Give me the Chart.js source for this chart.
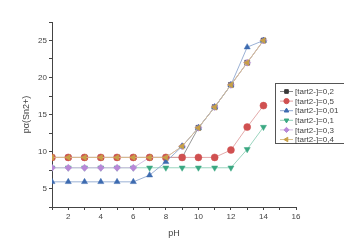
<!DOCTYPE html>
<html><head><meta charset="utf-8">
<script src="https://cdn.jsdelivr.net/npm/chart.js@4/dist/chart.umd.min.js"></script>
<style>html,body{margin:0;padding:0;background:#fff}#c{display:block}</style>
</head><body>
<canvas id="c" width="344" height="244"></canvas>
<script>
const pH = [1,2,3,4,5,6,7,8,9,10,11,12,13,14];
const seriesLabels = ['[tart2-]=0,2','[tart2-]=0,5','[tart2-]=0,01','[tart2-]=0,1','[tart2-]=0,3','[tart2-]=0,4'];
const t02  = [9.2,9.2,9.2,9.2,9.2,9.2,9.2,9.2,9.2,13.2,16.0,19.0,22.0,25.0];
const t05  = [9.2,9.2,9.2,9.2,9.2,9.2,9.2,9.2,9.2,9.2,9.2,10.2,13.3,16.2];
const t001 = [5.9,5.9,5.9,5.9,5.9,5.9,6.8,8.6,10.7,13.2,16.0,19.0,24.1,25.0];
const t01  = [7.8,7.8,7.8,7.8,7.8,7.8,7.8,7.8,7.8,7.8,7.8,7.8,10.3,13.3];
const t03  = [7.8,7.8,7.8,7.8,7.8,7.8,9.2,9.2,10.7,13.2,16.0,19.0,22.0,25.0];
const t04  = [9.2,9.2,9.2,9.2,9.2,9.2,9.2,9.2,10.7,13.2,16.0,19.0,22.0,25.0];
const xTickLabels = [2,4,6,8,10,12,14,16];
const yTickLabels = [5,10,15,20,25];

const values = [t02,t05,t001,t01,t03,t04];
const colors = ['#3a3a3a','#d05050','#3d6bb0','#3aa882','#b888d8','#c8a046'];
const lineColors = ['#8a8a8a','#e0a0a0','#90a8d0','#90d0b8','#d0b8e0','#d8c090'];
const styles = ['rect','circle','triangle','triangle','rectRot','triangle'];
const rots = [0,0,0,180,0,-90];
const orders = [7,3,2,6,4,1];

const datasets = values.map((v,i)=>({
  label: seriesLabels[i],
  data: v.map((y,j)=>({x:pH[j],y:y})),
  borderColor: lineColors[i],
  backgroundColor: colors[i],
  pointBackgroundColor: colors[i],
  pointBorderColor: colors[i],
  borderWidth: 0.9,
  pointStyle: styles[i],
  pointRotation: rots[i],
  pointRadius: 3.5,
  pointBorderWidth: 0.5,
  order: orders[i],
  tension: 0
}));

const legendPlugin = {
  id:'boxLegend',
  afterDraw(chart){
    const ctx = chart.ctx;
    ctx.save();
    const x0=275, y0=83, w=69, h=60;
    ctx.strokeStyle='#555'; ctx.lineWidth=1;
    ctx.fillStyle='#fff';
    ctx.fillRect(x0+0.5,y0+0.5,w,h);
    ctx.strokeRect(x0+0.5,y0+0.5,w,h);
    ctx.font='8px "Liberation Sans", Arial, sans-serif';
    ctx.textBaseline='middle';
    datasets.forEach((d,i)=>{
      const y = y0+8.5+i*9.6;
      ctx.strokeStyle=lineColors[i]; ctx.lineWidth=1;
      ctx.beginPath(); ctx.moveTo(280,y); ctx.lineTo(293,y); ctx.stroke();
      ctx.fillStyle=colors[i]; ctx.strokeStyle=colors[i];
      Chart.helpers.drawPoint(ctx,{pointStyle:styles[i],rotation:rots[i],radius:2.6,borderWidth:0.5},286.5,y);
      ctx.fillStyle='#444';
      ctx.fillText(d.label,295,y+0.5);
    });
    ctx.restore();
  }
};

new Chart(document.getElementById('c'),{
  type:'line',
  data:{datasets},
  options:{
    responsive:false, animation:false,
    layout:{padding:{left:21,right:48,top:22,bottom:5}},
    plugins:{legend:{display:false},tooltip:{enabled:false}},
    scales:{
      x:{type:'linear',min:1,max:16,
        afterFit(s){s.height=32;},
        grid:{drawOnChartArea:false,drawTicks:true,tickLength:3,color:'#444',tickColor:'#444'},
        border:{display:true,color:'#444',width:1},
        ticks:{stepSize:1,autoSkip:false,maxRotation:0,color:'#444',padding:2,
          font:{size:8,family:'"Liberation Sans", Arial, sans-serif'},
          callback:v=>xTickLabels.includes(v)?String(v):''},
        title:{display:true,text:'pH',color:'#444',padding:{top:3,bottom:0},
          font:{size:9,family:'"Liberation Sans", Arial, sans-serif'}}
      },
      y:{type:'linear',min:2.5,max:27.5,
        afterFit(s){s.width=31;},
        grid:{drawOnChartArea:false,drawTicks:true,tickLength:3,color:'#444',tickColor:'#444'},
        border:{display:true,color:'#444',width:1},
        ticks:{stepSize:2.5,autoSkip:false,color:'#444',padding:2,
          font:{size:8,family:'"Liberation Sans", Arial, sans-serif'},
          callback:v=>yTickLabels.includes(v)?String(v):''},
        title:{display:true,text:'pα(Sn2+)',color:'#444',padding:{top:0,bottom:2},
          font:{size:9,family:'"Liberation Sans", Arial, sans-serif'}}
      }
    }
  },
  plugins:[legendPlugin]
});
</script>
</body></html>
